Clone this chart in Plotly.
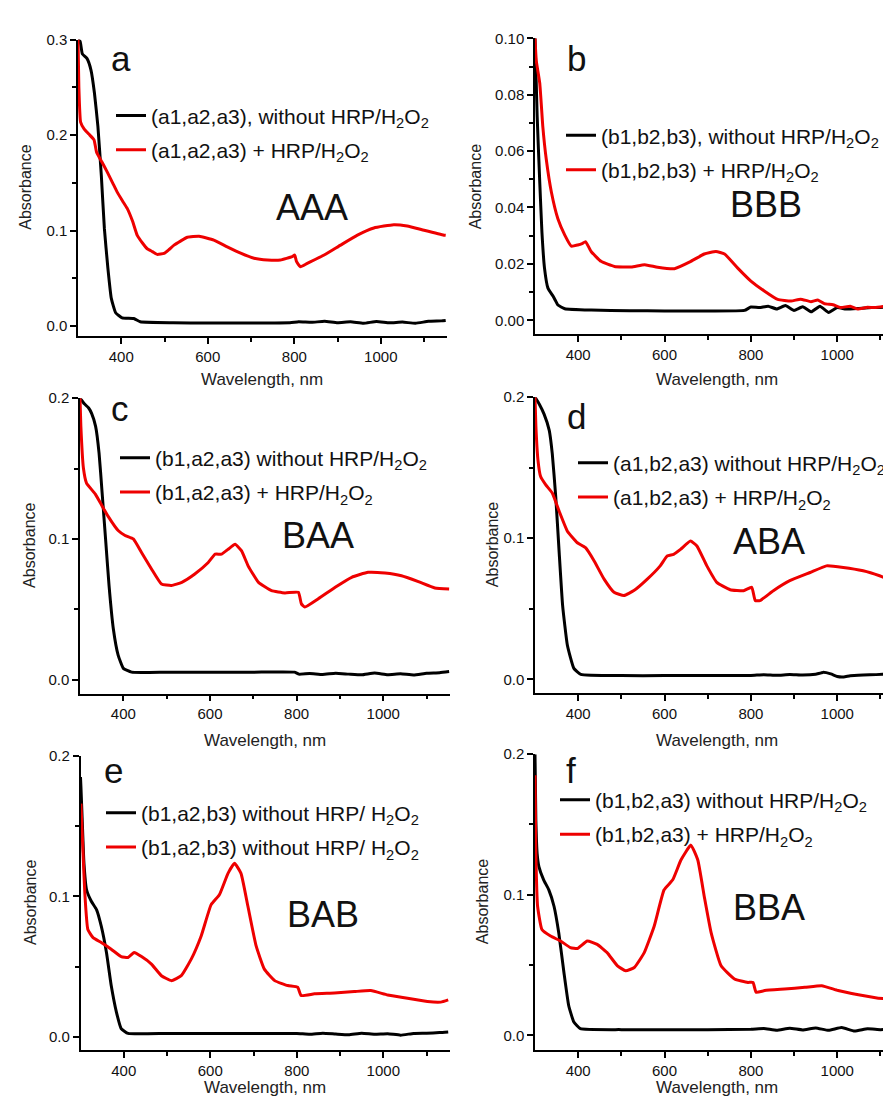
import plotly.graph_objects as go

# ---------------- data ----------------
wl_a_blk = [300, 305, 310, 321, 330, 338, 346, 354, 361, 369, 377, 387, 402, 429, 444, 520, 600, 700, 790, 810, 840, 870, 900, 930, 960, 990, 1020, 1050, 1080, 1110, 1140, 1150]
abs_a_blk = [0.300, 0.298, 0.285, 0.280, 0.268, 0.244, 0.209, 0.157, 0.102, 0.061, 0.029, 0.014, 0.0087, 0.008, 0.0045, 0.0035, 0.0033, 0.0033, 0.0035, 0.0045, 0.004, 0.005, 0.0035, 0.0045, 0.003, 0.0048, 0.0035, 0.0042, 0.003, 0.005, 0.0055, 0.006]
wl_a_red = [300, 302, 306, 314, 325, 337, 343, 355, 368, 380, 391, 403, 414, 426, 437, 449, 460, 472, 483, 499, 510, 522, 537, 553, 580, 614, 645, 676, 707, 738, 768, 795, 801, 805, 814, 830, 869, 907, 946, 984, 1030, 1061, 1100, 1146, 1150]
abs_a_red = [0.300, 0.250, 0.2135, 0.2065, 0.201, 0.195, 0.182, 0.172, 0.161, 0.150, 0.140, 0.131, 0.123, 0.110, 0.095, 0.087, 0.081, 0.078, 0.0751, 0.0761, 0.080, 0.0848, 0.089, 0.093, 0.094, 0.090, 0.083, 0.0763, 0.071, 0.0692, 0.0692, 0.0727, 0.0744, 0.0677, 0.0621, 0.0657, 0.0744, 0.0848, 0.0952, 0.1027, 0.1062, 0.1048, 0.1003, 0.0952, 0.095]

wl_b_blk = [300, 305, 311, 316, 322, 330, 342, 348, 353, 369, 430, 520, 600, 700, 785, 800, 820, 840, 860, 880, 900, 920, 940, 960, 980, 1000, 1020, 1050, 1080, 1110, 1143]
abs_b_blk = [0.100, 0.0724, 0.049, 0.0314, 0.0185, 0.0114, 0.0085, 0.0068, 0.0054, 0.0041, 0.0036, 0.0034, 0.0033, 0.0033, 0.0035, 0.0047, 0.0045, 0.0050, 0.0040, 0.0052, 0.0035, 0.0048, 0.0030, 0.0050, 0.0028, 0.0045, 0.0040, 0.0042, 0.0045, 0.0046, 0.0048]
wl_b_red = [300, 303, 311, 318, 326, 338, 353, 369, 384, 399, 409, 417, 430, 453, 484, 523, 554, 584, 623, 661, 692, 719, 739, 769, 800, 831, 862, 893, 915, 939, 955, 970, 990, 1008, 1030, 1047, 1070, 1086, 1110, 1124, 1136, 1143]
abs_b_red = [0.100, 0.092, 0.0841, 0.0689, 0.0572, 0.0454, 0.036, 0.0302, 0.0263, 0.0267, 0.0272, 0.0279, 0.0244, 0.0209, 0.0191, 0.0189, 0.0197, 0.0188, 0.0183, 0.0209, 0.0235, 0.0244, 0.0235, 0.0186, 0.0139, 0.0104, 0.0074, 0.0068, 0.0075, 0.0066, 0.0072, 0.0059, 0.0055, 0.0045, 0.0050, 0.0040, 0.0046, 0.0045, 0.0050, 0.0054, 0.0091, 0.0126]

wl_c_blk = [300, 310, 320, 327, 336, 344, 351, 359, 367, 377, 388, 400, 419, 500, 600, 700, 795, 805, 830, 860, 890, 920, 950, 980, 1010, 1040, 1070, 1100, 1130, 1152]
abs_c_blk = [0.200, 0.196, 0.193, 0.189, 0.180, 0.161, 0.133, 0.100, 0.067, 0.036, 0.0175, 0.0081, 0.0054, 0.0054, 0.0054, 0.0054, 0.0054, 0.0040, 0.0045, 0.0038, 0.0046, 0.0040, 0.0035, 0.0048, 0.0036, 0.0042, 0.0034, 0.0046, 0.0050, 0.0058]
wl_c_red = [300, 302, 308, 315, 335, 350, 365, 388, 404, 423, 442, 465, 488, 511, 535, 565, 596, 612, 627, 642, 658, 673, 688, 712, 742, 773, 804, 811, 819, 850, 889, 927, 965, 1004, 1042, 1081, 1119, 1152]
abs_c_red = [0.200, 0.180, 0.150, 0.1397, 0.132, 0.124, 0.116, 0.106, 0.1025, 0.1000, 0.0904, 0.0787, 0.068, 0.0669, 0.0692, 0.0751, 0.0833, 0.0892, 0.0892, 0.0927, 0.0962, 0.0915, 0.0809, 0.0692, 0.0633, 0.0617, 0.0621, 0.0539, 0.0516, 0.0575, 0.0657, 0.0728, 0.0763, 0.0758, 0.0739, 0.0697, 0.0652, 0.0645]

wl_d_blk = [300, 310, 321, 333, 340, 348, 356, 364, 375, 390, 406, 500, 600, 700, 800, 830, 860, 890, 920, 950, 967, 985, 1000, 1015, 1030, 1060, 1090, 1120, 1143]
abs_d_blk = [0.200, 0.195, 0.188, 0.1765, 0.160, 0.1295, 0.0898, 0.0522, 0.0241, 0.0077, 0.0035, 0.0026, 0.0026, 0.0026, 0.0027, 0.0033, 0.0028, 0.0034, 0.0030, 0.0036, 0.0049, 0.0038, 0.0020, 0.0017, 0.0025, 0.0030, 0.0033, 0.0037, 0.0040]
wl_d_red = [300, 302, 307, 313, 325, 340, 356, 375, 398, 417, 437, 460, 483, 506, 529, 560, 590, 606, 621, 637, 660, 675, 698, 721, 752, 783, 802, 810, 821, 852, 890, 937, 975, 1014, 1060, 1098, 1143]
abs_d_red = [0.200, 0.180, 0.155, 0.1437, 0.1378, 0.1320, 0.1191, 0.105, 0.0968, 0.0933, 0.0839, 0.0710, 0.0617, 0.0594, 0.0629, 0.0710, 0.0804, 0.0874, 0.0886, 0.0921, 0.098, 0.0945, 0.0804, 0.0687, 0.0635, 0.0628, 0.0652, 0.0558, 0.0558, 0.0628, 0.0699, 0.0757, 0.0804, 0.0793, 0.0769, 0.0734, 0.0680]

wl_e_blk = [300, 301, 304, 308, 314, 325, 337, 348, 360, 371, 383, 394, 410, 500, 600, 700, 800, 830, 860, 890, 920, 950, 980, 1010, 1040, 1070, 1100, 1130, 1150]
abs_e_blk = [0.185, 0.178, 0.1541, 0.1235, 0.1047, 0.0965, 0.0906, 0.0788, 0.0600, 0.0365, 0.0176, 0.0059, 0.0024, 0.0024, 0.0024, 0.0024, 0.0024, 0.0018, 0.0026, 0.0020, 0.0015, 0.0026, 0.0018, 0.0022, 0.0012, 0.0024, 0.0026, 0.0030, 0.0035]
wl_e_red = [301, 306, 310, 317, 329, 348, 371, 394, 410, 424, 441, 464, 487, 510, 533, 556, 579, 602, 621, 641, 656, 671, 687, 706, 725, 749, 779, 802, 810, 841, 887, 933, 971, 1010, 1056, 1102, 1133, 1150]
abs_e_red = [0.166, 0.130, 0.102, 0.0764, 0.0706, 0.0671, 0.0624, 0.0571, 0.0565, 0.0600, 0.0571, 0.0518, 0.0435, 0.0400, 0.0435, 0.0553, 0.0718, 0.0941, 0.1011, 0.1164, 0.1235, 0.1164, 0.0929, 0.0647, 0.0482, 0.0400, 0.0365, 0.0353, 0.0294, 0.0306, 0.0312, 0.0322, 0.0329, 0.0298, 0.0275, 0.0251, 0.0247, 0.0263]

wl_f_blk = [300, 302, 305, 309, 320, 332, 344, 355, 367, 378, 390, 405, 500, 600, 700, 800, 830, 860, 890, 920, 950, 980, 1010, 1040, 1070, 1100, 1143]
abs_f_blk = [0.200, 0.153, 0.129, 0.120, 0.1106, 0.1035, 0.0918, 0.0729, 0.0447, 0.0212, 0.0094, 0.0047, 0.0040, 0.0040, 0.0040, 0.0042, 0.0048, 0.0036, 0.0050, 0.0038, 0.0052, 0.0035, 0.0055, 0.0030, 0.0046, 0.0040, 0.0045]
wl_f_red = [300, 302, 306, 316, 336, 359, 382, 398, 421, 444, 467, 491, 510, 530, 553, 576, 599, 619, 638, 661, 677, 692, 708, 731, 762, 793, 805, 812, 832, 878, 925, 964, 1002, 1049, 1095, 1143]
abs_f_red = [0.185, 0.129, 0.0918, 0.0753, 0.0706, 0.0671, 0.0624, 0.0617, 0.0671, 0.0647, 0.0588, 0.0494, 0.0459, 0.0482, 0.0588, 0.0776, 0.1035, 0.1106, 0.1247, 0.1353, 0.1247, 0.0988, 0.0729, 0.0494, 0.0400, 0.0376, 0.0376, 0.0306, 0.0318, 0.0329, 0.0341, 0.0353, 0.0318, 0.0288, 0.0264, 0.0259]

panel_letters = ["a", "b", "c", "d", "e", "f"]
panel_codes = ["AAA", "BBB", "BAA", "ABA", "BAB", "BBA"]
H2O2 = "H<sub>2</sub>O<sub>2</sub>"
legend_black = ["(a1,a2,a3), without HRP/" + H2O2, "(b1,b2,b3), without HRP/" + H2O2,
                "(b1,a2,a3) without HRP/" + H2O2, "(a1,b2,a3) without HRP/" + H2O2,
                "(b1,a2,b3) without HRP/ " + H2O2, "(b1,b2,a3) without HRP/" + H2O2]
legend_red = ["(a1,a2,a3) + HRP/" + H2O2, "(b1,b2,b3) + HRP/" + H2O2,
              "(b1,a2,a3) + HRP/" + H2O2, "(a1,b2,a3) + HRP/" + H2O2,
              "(b1,a2,b3) without HRP/ " + H2O2, "(b1,b2,a3) + HRP/" + H2O2]
black_x = [wl_a_blk, wl_b_blk, wl_c_blk, wl_d_blk, wl_e_blk, wl_f_blk]
black_y = [abs_a_blk, abs_b_blk, abs_c_blk, abs_d_blk, abs_e_blk, abs_f_blk]
red_x = [wl_a_red, wl_b_red, wl_c_red, wl_d_red, wl_e_red, wl_f_red]
red_y = [abs_a_red, abs_b_red, abs_c_red, abs_d_red, abs_e_red, abs_f_red]
y_major = [[0, 0.1, 0.2, 0.3], [0, 0.02, 0.04, 0.06, 0.08, 0.10], [0, 0.1, 0.2], [0, 0.1, 0.2], [0, 0.1, 0.2], [0, 0.1, 0.2]]
y_minor = [[0.05, 0.15, 0.25], [0.01, 0.03, 0.05, 0.07, 0.09], [0.05, 0.15], [0.05, 0.15], [0.05, 0.15], [0.05, 0.15]]
x_major = [400, 600, 800, 1000]
x_minor = [500, 700, 900, 1100]

# ---------------- layout geometry (pixels) ----------------
W, H = 891, 1097
FONT = "Liberation Sans, Arial, sans-serif"
def fx(p): return p / W
def fy(p): return 1 - p / H

geo = [
    dict(xl=70, xr=439, yt=22.7, yb=321.7, xr_=[300, 1153], yr_=[-0.0104, 0.3], fmt=".1f"),
    dict(xl=527, xr=891, yt=21.5, yb=320, xr_=[300, 1143], yr_=[-0.005, 0.10], fmt=".2f"),
    dict(xl=72, xr=442, yt=384.3, yb=682.3, xr_=[300, 1154], yr_=[-0.0099, 0.2], fmt=".1f"),
    dict(xl=527, xr=891, yt=383.3, yb=681.7, xr_=[300, 1143], yr_=[-0.0098, 0.2], fmt=".1f"),
    dict(xl=72.5, xr=441.5, yt=745, yb=1041.7, xr_=[300, 1153], yr_=[-0.0095, 0.2], fmt=".1f"),
    dict(xl=527, xr=891, yt=743.3, yb=1041.7, xr_=[300, 1143], yr_=[-0.0106, 0.2], fmt=".1f"),
]
letter_pos = [(113, 42), (568, 42), (112, 395), (568, 403), (105, 760), (563, 760)]
code_pos = [(304, 192), (758, 189), (310, 523), (761, 529), (315, 905), (761, 898)]
legend_pos = [(143, 79), (593, 99), (147, 424), (605, 429), (133, 782), (587, 769)]
absorb_x = [18, 467, 22, 484, 22, 474]
wave_y = [365, 365, 729, 729, 1079, 1079]

fig = go.Figure()
annotations = []
layout = dict(width=W, height=H, margin=dict(l=0, r=0, t=0, b=0),
              paper_bgcolor="white", plot_bgcolor="white",
              font=dict(family=FONT, color="black"))

for i in range(6):
    k = "" if i == 0 else str(i + 1)
    lg = "legend" + k
    g = geo[i]
    fig.add_trace(go.Scatter(x=black_x[i], y=black_y[i], mode="lines", name=legend_black[i],
                             line=dict(color="black", width=3, shape="spline", smoothing=0.4),
                             xaxis="x" + k, yaxis="y" + k, legend=lg, legendgroup="k" + k))
    fig.add_trace(go.Scatter(x=red_x[i], y=red_y[i], mode="lines", name=legend_red[i],
                             line=dict(color="#ee0000", width=3, shape="spline", smoothing=0.4),
                             xaxis="x" + k, yaxis="y" + k, legend=lg, legendgroup="r" + k))
    layout["xaxis" + k] = dict(domain=[fx(g["xl"]), fx(g["xr"])], range=g["xr_"], anchor="y" + k,
                               showline=True, linecolor="black", linewidth=1.5,
                               ticks="outside", ticklen=6, tickwidth=1.5, tickcolor="black",
                               tickmode="array", tickvals=x_major,
                               minor=dict(tickmode="array", tickvals=x_minor, ticks="outside",
                                          ticklen=4, tickwidth=1.5, tickcolor="black"),
                               showgrid=False, zeroline=False,
                               tickfont=dict(size=15, family=FONT, color="#111"))
    layout["yaxis" + k] = dict(domain=[fy(g["yb"]), fy(g["yt"])], range=g["yr_"], anchor="x" + k,
                               showline=True, linecolor="black", linewidth=1.5,
                               ticks="outside", ticklen=6, tickwidth=1.5, tickcolor="black",
                               tickmode="array", tickvals=y_major[i], tickformat=g["fmt"],
                               minor=dict(tickmode="array", tickvals=y_minor[i], ticks="outside",
                                          ticklen=4, tickwidth=1.5, tickcolor="black"),
                               showgrid=False, zeroline=False,
                               tickfont=dict(size=15, family=FONT, color="#111"))
    lx, ly = legend_pos[i]
    layout[lg] = dict(x=fx(lx - 40), y=fy(ly), xanchor="left", yanchor="top",
                      bgcolor="rgba(0,0,0,0)", borderwidth=0, traceorder="grouped",
                      font=dict(size=21, family=FONT, color="#111"), itemwidth=30,
                      tracegroupgap=4)
    annotations.append(dict(text="Absorbance", x=fx(absorb_x[i]), y=fy((g["yt"] + g["yb"]) / 2),
                            xref="paper", yref="paper", showarrow=False, textangle=-90,
                            font=dict(size=16, family=FONT, color="#222"),
                            xanchor="center", yanchor="middle"))
    annotations.append(dict(text="Wavelength, nm", x=fx((g["xl"] + min(g["xr"], g["xl"] + 369)) / 2),
                            y=fy(wave_y[i]), xref="paper", yref="paper", showarrow=False,
                            font=dict(size=17, family=FONT, color="#222"),
                            xanchor="center", yanchor="middle"))
    px_, py_ = letter_pos[i]
    annotations.append(dict(text=panel_letters[i], x=fx(px_), y=fy(py_), xref="paper", yref="paper",
                            showarrow=False, font=dict(size=35, family=FONT, color="#111"),
                            xanchor="center", yanchor="middle"))
    cx, cy = code_pos[i]
    annotations.append(dict(text=panel_codes[i], x=fx(cx), y=fy(cy), xref="paper", yref="paper",
                            showarrow=False, font=dict(size=36, family=FONT, color="#111"),
                            xanchor="center", yanchor="middle"))

layout["annotations"] = annotations
fig.update_layout(**layout)
fig.write_html("out.html")
